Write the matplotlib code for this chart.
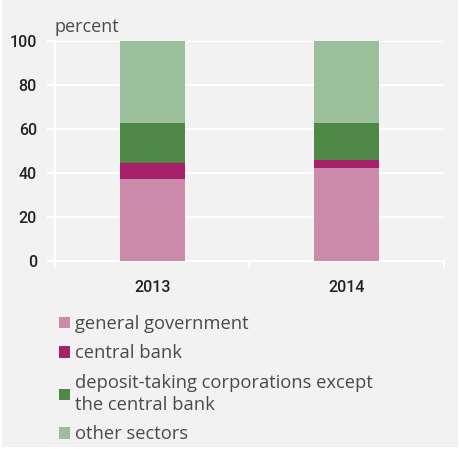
import matplotlib.pyplot as plt
from matplotlib.patches import Patch, Rectangle

years = ["2013", "2014"]
general_government = [37.3, 42.4]
central_bank = [7.4, 3.4]
deposit_taking = [18.0, 16.8]
other_sectors = [37.3, 37.4]

series = [
    ("general government", general_government, "#cd8bab"),
    ("central bank", central_bank, "#a6216a"),
    ("deposit-taking corporations except\nthe central bank", deposit_taking, "#4e8746"),
    ("other sectors", other_sectors, "#9bbf9b"),
]

bg = "#f2f2f2"
text_font = ["Open Sans", "DejaVu Sans"]
fig = plt.figure(figsize=(4.6, 4.49), dpi=100, facecolor="white")
fig.patches.append(Rectangle((2 / 460, 2 / 449), 456 / 460, 447 / 449,
                             transform=fig.transFigure, facecolor=bg,
                             edgecolor="none", zorder=-10))

ax = fig.add_axes([55 / 460, 188 / 449, 389 / 460, 220 / 449])
ax.set_facecolor(bg)

pos = [0.5, 1.5]
bottom = [0.0, 0.0]
for label, vals, color in series:
    ax.bar(pos, vals, width=0.335, bottom=bottom, color=color, zorder=3)
    bottom = [b + v for b, v in zip(bottom, vals)]

ax.set_xlim(0, 2)
ax.set_ylim(0, 100)
ax.set_yticks(range(0, 101, 20))
ax.yaxis.grid(True, color="white", linewidth=1.5, zorder=0)
ax.set_xticks(pos)
ax.set_xticklabels(years)
ax.set_xticks([0, 1, 2], minor=True)
ax.tick_params(axis="x", which="major", length=0, pad=14)
ax.tick_params(axis="x", which="minor", length=5, width=1.5, color="white")
ax.tick_params(axis="y", length=6, width=1.5, color="white", pad=7)
for lab in ax.get_xticklabels() + ax.get_yticklabels():
    lab.set_fontfamily(["Roboto", "DejaVu Sans"])
    lab.set_fontweight("medium")
    lab.set_fontsize(11.5)
    lab.set_color("#222222")

for side in ["top", "right"]:
    ax.spines[side].set_visible(False)
for side in ["left", "bottom"]:
    ax.spines[side].set_color("white")
    ax.spines[side].set_linewidth(1.5)

fig.text(55 / 460, 1 - 27 / 449, "percent", fontsize=13, color="#4a4a4a",
         family=text_font, va="center", ha="left")

handles = [Patch(facecolor=c, edgecolor="none") for _, _, c in series]
labels = [l for l, _, _ in series]
leg = fig.legend(handles, labels, loc="upper left",
                 bbox_to_anchor=(59 / 460, 1 - 315 / 449), frameon=False,
                 borderpad=0, borderaxespad=0, handlelength=0.6,
                 handleheight=0.6, handletextpad=0.25, labelspacing=0.62,
                 prop={"family": text_font, "size": 13.2})
for t in leg.get_texts():
    t.set_color("#4a4a4a")
    t.set_linespacing(1.3)

fig.savefig("out.png", dpi=100, facecolor=fig.get_facecolor())
